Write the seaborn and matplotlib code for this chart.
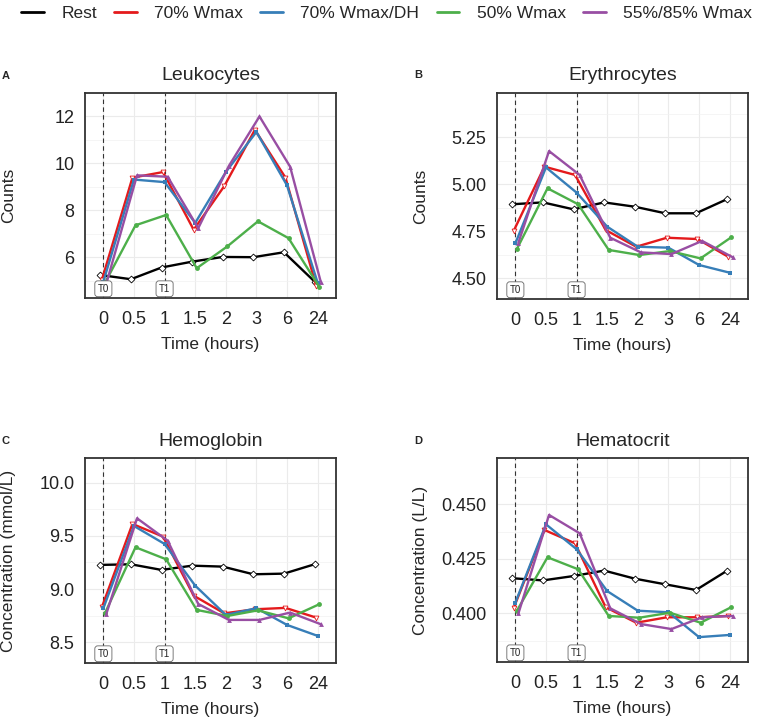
import numpy as np
import pandas as pd
import matplotlib
matplotlib.use('Agg')
import matplotlib.pyplot as plt
import matplotlib.transforms as mtransforms
from matplotlib.lines import Line2D
from matplotlib.ticker import MultipleLocator, FormatStrFormatter
import seaborn as sns

times = ['0', '0.5', '1', '1.5', '2', '3', '6', '24']
groups = ['Rest', '70% Wmax', '70% Wmax/DH', '50% Wmax', '55%/85% Wmax']
colors = ['#000000', '#E41A1C', '#377EB8', '#4DAF4A', '#984EA3']
markers = ['D', 'v', 's', 'o', '^']

# A - leukocytes
leu_rest = [5.24, 5.06, 5.56, 5.81, 6.01, 6.00, 6.21, 4.96]
leu_70 = [5.03, 9.39, 9.63, 7.17, 9.03, 11.43, 9.39, 4.79]
leu_70dh = [4.96, 9.31, 9.20, 7.46, 9.63, 11.34, 9.06, 4.91]
leu_50 = [4.90, 7.36, 7.80, 5.53, 6.46, 7.53, 6.81, 4.74]
leu_5585 = [4.89, 9.49, 9.43, 7.24, 9.89, 12.00, 9.86, 4.96]

# B - erythrocytes
ery_rest = [4.894, 4.904, 4.867, 4.904, 4.881, 4.846, 4.846, 4.920]
ery_70 = [4.754, 5.094, 5.050, 4.757, 4.668, 4.716, 4.709, 4.615]
ery_70dh = [4.686, 5.090, 4.956, 4.775, 4.668, 4.663, 4.571, 4.530]
ery_50 = [4.656, 4.979, 4.894, 4.651, 4.624, 4.645, 4.606, 4.718]
ery_5585 = [4.690, 5.177, 5.050, 4.716, 4.638, 4.629, 4.699, 4.612]

# C - hemoglobin
hb_rest = [9.227, 9.233, 9.180, 9.220, 9.211, 9.139, 9.145, 9.233]
hb_70 = [8.829, 9.612, 9.493, 8.938, 8.772, 8.810, 8.823, 8.732]
hb_70dh = [8.820, 9.593, 9.424, 9.032, 8.757, 8.820, 8.663, 8.560]
hb_50 = [8.772, 9.393, 9.280, 8.804, 8.747, 8.800, 8.725, 8.857]
hb_5585 = [8.770, 9.665, 9.455, 8.860, 8.710, 8.710, 8.779, 8.670]

# D - hematocrit
hct_rest = [0.4161, 0.4151, 0.4171, 0.4196, 0.4159, 0.4133, 0.4107, 0.4194]
hct_70 = [0.4026, 0.4382, 0.4321, 0.4028, 0.3957, 0.3982, 0.3982, 0.3988]
hct_70dh = [0.4049, 0.4408, 0.4294, 0.4102, 0.4012, 0.4005, 0.3891, 0.3901]
hct_50 = [0.4012, 0.4257, 0.4202, 0.3988, 0.3980, 0.4003, 0.3957, 0.4028]
hct_5585 = [0.4000, 0.4451, 0.4367, 0.4023, 0.3951, 0.3928, 0.3982, 0.3988]


def make_frame(series):
    rows = []
    for g, vals in zip(groups, series):
        for t, v in zip(times, vals):
            rows.append({'time': t, 'group': g, 'value': v})
    return pd.DataFrame(rows)


def px_rect(left, top, right, bottom, W=758, H=722):
    return [left / W, 1 - bottom / H, (right - left) / W, (bottom - top) / H]


def draw_panel(ax, series, title, ylabel, letter, ylim, major, fmt):
    df = make_frame(series)
    # reference lines at T0 / T1
    blend = mtransforms.blended_transform_factory(ax.transData, ax.transAxes)
    for lab, t in (('T0', '0'), ('T1', '1')):
        xi = times.index(t)
        ax.axvline(xi, color='#333333', lw=0.8, ls=(0, (4, 3)), zorder=1)
        ax.text(xi, 0.045, lab, transform=blend, ha='center', va='center',
                fontsize=7, color='#222222', zorder=5,
                bbox=dict(boxstyle='round,pad=0.3', fc='white', ec='#666666', lw=0.6))

    sns.pointplot(data=df, x='time', y='value', hue='group', order=times,
                  hue_order=groups, palette=colors, markers=markers,
                  linestyles='-', dodge=0.2, errorbar=None, legend=False,
                  ax=ax, markersize=3.5, linewidth=1.7)
    for line in ax.lines:
        if line.get_marker() in ('D', 'v'):
            line.set_markerfacecolor('white')
            line.set_markeredgewidth(0.6)
        if line.get_marker() in ('s', 'o', '^'):
            line.set_markeredgewidth(0)

    ax.set_xlim(-0.6, 7.6)
    ax.set_ylim(*ylim)
    ax.yaxis.set_major_locator(MultipleLocator(major))
    ax.yaxis.set_minor_locator(MultipleLocator(major / 2))
    ax.yaxis.set_major_formatter(FormatStrFormatter(fmt))
    ax.grid(True, which='major', color='#EBEBEB', lw=0.8)
    ax.grid(True, which='minor', axis='y', color='#F2F2F2', lw=0.5)
    ax.set_axisbelow(True)
    ax.tick_params(which='major', length=4, width=1.0, color='#333333',
                   labelsize=13, labelcolor='#222222')
    ax.tick_params(axis='x', pad=5.5)
    ax.tick_params(which='minor', length=0)
    for sp in ax.spines.values():
        sp.set_visible(True)
        sp.set_color('#333333')
        sp.set_linewidth(1.3)
    ax.set_title(title, fontsize=14, pad=9)
    ax.set_xlabel('Time (hours)', fontsize=12.5)
    ax.set_ylabel(ylabel, fontsize=12.5)
    ax.yaxis.set_label_coords(-0.275, 0.5)
    ax.xaxis.set_label_coords(0.5, -0.19)
    ax.text(-0.315, 1.085, letter, transform=ax.transAxes, fontsize=8,
            fontweight='bold', ha='center', va='center')


sns.set_style('white')
plt.rcParams['font.family'] = ['Liberation Sans', 'DejaVu Sans']

fig = plt.figure(figsize=(7.58, 7.22), dpi=100)
axA = fig.add_axes(px_rect(85, 93, 336, 298))
axB = fig.add_axes(px_rect(497, 93, 748, 299))
axC = fig.add_axes(px_rect(85, 458, 336, 663))
axD = fig.add_axes(px_rect(497, 458, 748, 662))

draw_panel(axA, [leu_rest, leu_70, leu_70dh, leu_50, leu_5585],
           'Leukocytes', 'Counts', 'A', (4.26, 13.0), 2, '%d')
draw_panel(axB, [ery_rest, ery_70, ery_70dh, ery_50, ery_5585],
           'Erythrocytes', 'Counts', 'B', (4.39, 5.486), 0.25, '%.2f')
draw_panel(axC, [hb_rest, hb_70, hb_70dh, hb_50, hb_5585],
           'Hemoglobin', 'Concentration (mmol/L)', 'C', (8.305, 10.232), 0.5, '%.1f')
draw_panel(axD, [hct_rest, hct_70, hct_70dh, hct_50, hct_5585],
           'Hematocrit', 'Concentration (L/L)', 'D', (0.3777, 0.4712), 0.025, '%.3f')

handles = [Line2D([0], [0], color=c, lw=2) for c in colors]
fig.legend(handles, groups, loc='center', bbox_to_anchor=(0.51, 1 - 13 / 722),
           ncol=5, frameon=False, fontsize=12.5, handlelength=1.3,
           handletextpad=1.0, columnspacing=1.0)

fig.savefig('out.png', dpi=100)
